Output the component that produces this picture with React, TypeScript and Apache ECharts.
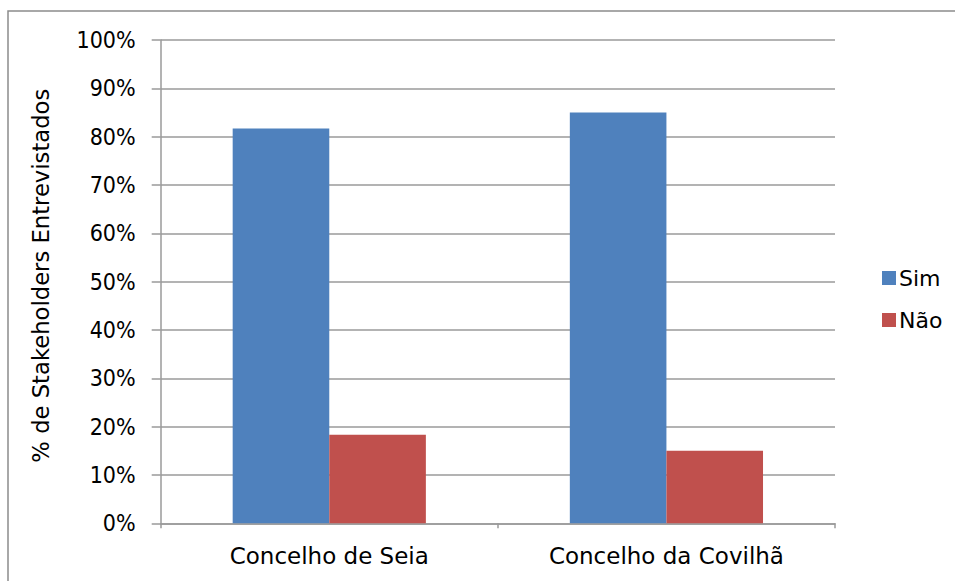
import React, { useEffect, useRef } from "react";
import * as echarts from "echarts";

const categories = ["Concelho de Seia", "Concelho da Covilhã"];
const simValues = [81.7, 85.0];
const naoValues = [18.3, 15.0];
const seriesNames = ["Sim", "Não"];
const yAxisTitle = "% de Stakeholders Entrevistados";

const FONT = "DejaVu Sans";
const FONT_NARROW = "'DejaVu Sans Condensed', 'DejaVu Sans'";
const GRAY = "#9a9a9a";

export default function App() {
  const ref = useRef<HTMLDivElement>(null);

  useEffect(() => {
    document.body.style.margin = "0";
    const chart = echarts.init(ref.current!, null, { renderer: "svg" });
    chart.setOption({
      animation: false,
      backgroundColor: "#ffffff",
      textStyle: { fontFamily: FONT, color: "#000" },
      graphic: [
        {
          type: "rect",
          shape: { x: 8, y: 11, width: 1000, height: 700 },
          style: { fill: "none", stroke: "#8c8c8c", lineWidth: 1.5 },
          silent: true,
          z: -10,
        },
      ],
      legend: {
        orient: "vertical",
        left: 877,
        top: 262,
        itemWidth: 14,
        itemHeight: 14,
        itemGap: 20,
        icon: "rect",
        textStyle: { fontFamily: FONT, fontSize: 22, color: "#000", padding: [0, 0, 0, -2] },
        data: seriesNames,
      },
      grid: { left: 160.7, right: 120, top: 40, bottom: 57.7 },
      xAxis: {
        type: "category",
        data: categories,
        axisLine: { lineStyle: { color: GRAY, width: 1.5 } },
        axisTick: { show: true, length: 5, lineStyle: { color: GRAY, width: 1.5 } },
        axisLabel: { fontFamily: FONT, fontSize: 23, color: "#000", margin: 21 },
      },
      yAxis: {
        type: "value",
        min: 0,
        max: 100,
        interval: 10,
        name: yAxisTitle,
        nameLocation: "middle",
        nameGap: 108,
        nameTextStyle: { fontFamily: FONT, fontSize: 22.7, color: "#000", padding: [0, 0, 0, 12] },
        axisLine: { show: true, lineStyle: { color: GRAY, width: 1.5 } },
        axisTick: { show: true, length: 9, inside: false, lineStyle: { color: GRAY, width: 1.5 } },
        splitLine: { lineStyle: { color: GRAY, width: 1.5 } },
        axisLabel: {
          fontFamily: FONT_NARROW,
          fontSize: 23,
          color: "#000",
          margin: 25,
          formatter: (v: number) => `${v}%`,
        },
      },
      series: [
        {
          name: seriesNames[0],
          type: "bar",
          data: simValues,
          barGap: "0%",
          barCategoryGap: "42.7%",
          itemStyle: { color: "#4f81bd" },
        },
        {
          name: seriesNames[1],
          type: "bar",
          data: naoValues,
          barGap: "0%",
          barCategoryGap: "42.7%",
          itemStyle: { color: "#c0504d" },
        },
      ],
    });
    return () => chart.dispose();
  }, []);

  return <div ref={ref} style={{ width: 955, height: 581 }} />;
}
